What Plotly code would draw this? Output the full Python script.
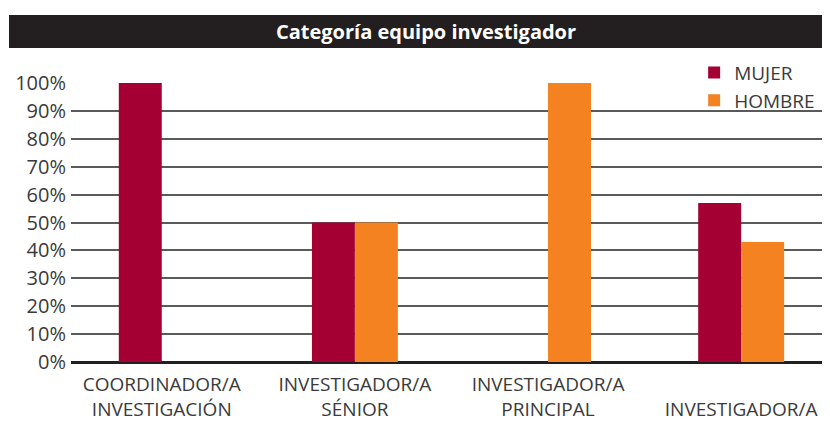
import plotly.graph_objects as go

categories = ["COORDINADOR/A<br>INVESTIGACIÓN", "INVESTIGADOR/A<br>SÉNIOR",
              "INVESTIGADOR/A<br>PRINCIPAL", " <br>INVESTIGADOR/A"]
mujer = [100, 50, 0, 57]
hombre = [0, 50, 100, 43]
y_ticks = [0, 10, 20, 30, 40, 50, 60, 70, 80, 90, 100]
y_ticklabels = [f"{v}%" for v in y_ticks]
title_text = "Categoría equipo investigador"

MUJER_C = "#A50034"
HOMBRE_C = "#F58220"
FONT = "Open Sans"

fig = go.Figure()
fig.add_trace(go.Bar(name="MUJER", x=categories, y=mujer, marker_color=MUJER_C,
                     marker_line_width=0))
fig.add_trace(go.Bar(name="HOMBRE", x=categories, y=hombre, marker_color=HOMBRE_C,
                     marker_line_width=0))

# page has an 8px body margin: figure spans page x 8..830, y 8..423
fig.update_layout(
    width=822, height=415,
    margin=dict(l=63, r=0, t=75, b=61, autoexpand=False),
    paper_bgcolor="white", plot_bgcolor="white",
    barmode="group", bargap=0.555, bargroupgap=0,
    font=dict(family=FONT, color="#3a3a3a", size=19),
    showlegend=True,
    legend=dict(x=0.821, y=1.105, xanchor="left", yanchor="top",
                bgcolor="rgba(0,0,0,0)", font=dict(size=19, color="#3a3a3a"),
                tracegroupgap=0, itemwidth=30),
    xaxis=dict(type="category", range=[-0.47, 3.46], showgrid=False,
               showline=False, ticks="", tickfont=dict(size=19, color="#3a3a3a"),
               tickangle=0, ticklabelstandoff=9),
    yaxis=dict(range=[0, 100], tickvals=y_ticks, ticktext=y_ticklabels,
               showgrid=True, gridcolor="#5a5a5a", gridwidth=1.5,
               zeroline=True, zerolinecolor="#231F20", zerolinewidth=3,
               showline=False, ticks="", ticklabelstandoff=4,
               tickfont=dict(size=20, color="#3a3a3a")),
    shapes=[dict(type="rect", xref="paper", yref="paper",
                 x0=-0.0817, x1=1.05, y0=1.1254, y1=1.2437,
                 fillcolor="#231F20", line_width=0, layer="above")],
    annotations=[dict(text=f"<b>{title_text}</b>", xref="paper", yref="paper",
                      x=0.4677, y=1.1846, xanchor="center", yanchor="middle",
                      showarrow=False, font=dict(family=FONT, size=20, color="white"))],
)

fig.write_html("out.html")
